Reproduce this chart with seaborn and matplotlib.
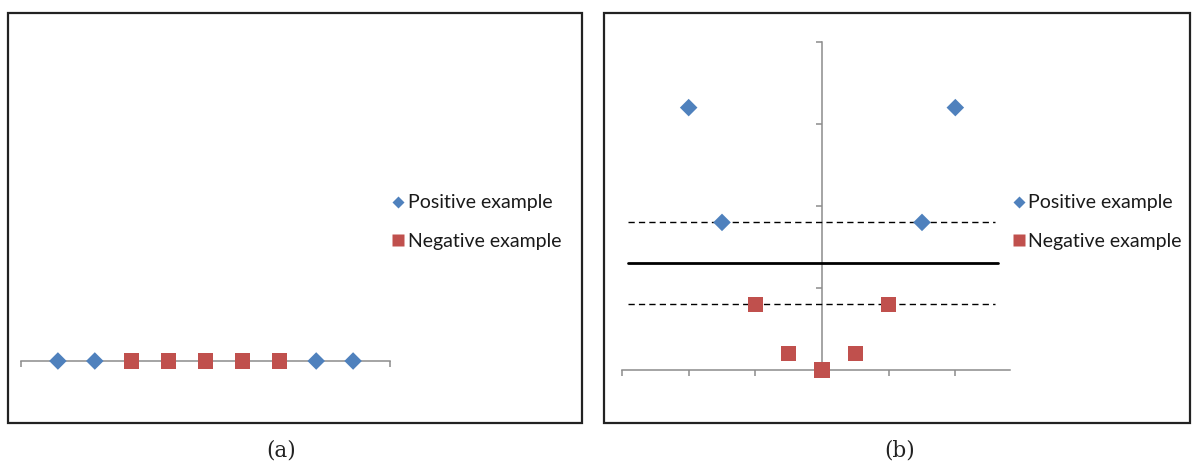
import matplotlib
matplotlib.use("Agg")
import matplotlib.pyplot as plt
from matplotlib.patches import Rectangle
from matplotlib.lines import Line2D
import seaborn as sns
import pandas as pd

# ---- data ----
x_values = [-2, -1.5, -1, -0.5, 0, 0.5, 1, 1.5, 2]
classes = ["Positive example", "Positive example", "Negative example", "Negative example",
           "Negative example", "Negative example", "Negative example", "Positive example",
           "Positive example"]
y_mapped = [4, 2.25, 1, 0.25, 0, 0.25, 1, 2.25, 4]
margin_levels = [1, 2.25]
boundary_level = 1.625
panel_labels = ["(a)", "(b)"]

df_a = pd.DataFrame({"x": x_values, "y": [0] * len(x_values), "cls": classes})
df_b = pd.DataFrame({"x": x_values, "y": y_mapped, "cls": classes})

sns.set_theme(style="white")
plt.rcParams["font.family"] = ["Lato", "DejaVu Sans"]

W, H = 1193, 466
fig = plt.figure(figsize=(W / 100, H / 100), dpi=100)


def fx(px):
    return px / W


def fy(py):
    return 1 - py / H


def ax_rect(l, t, r, b):
    return [fx(l), fy(b), (r - l) / W, (b - t) / H]


BLUE = "#4F81BD"
RED = "#C0504D"
GRAY = "#8C8C8C"
palette = {"Positive example": BLUE, "Negative example": RED}
markers = {"Positive example": "D", "Negative example": "s"}

# frames
for (l, t, r, b) in [(8, 13, 582, 423), (604, 13, 1190, 423)]:
    fig.patches.append(Rectangle((fx(l), fy(b)), (r - l) / W, (b - t) / H,
                                 transform=fig.transFigure, fill=False,
                                 edgecolor="#222222", linewidth=1.6))


def draw_points(ax, df):
    for cls, sub in df.groupby("cls"):
        size = 80 if markers[cls] == "D" else 120
        sns.scatterplot(data=sub, x="x", y="y", ax=ax, color=palette[cls],
                        marker=markers[cls], s=size, edgecolor="none",
                        linewidth=0, clip_on=False, zorder=5, legend=False)


# ---- panel (a) ----
ax_a = fig.add_axes(ax_rect(21, 40, 390, 361))
draw_points(ax_a, df_a)
ax_a.set_xlim(-2.5, 2.5)
ax_a.set_ylim(0, 1)
for s in ["left", "right", "top"]:
    ax_a.spines[s].set_visible(False)
ax_a.spines["bottom"].set_color(GRAY)
ax_a.spines["bottom"].set_linewidth(1.1)
ax_a.set_xticks([-2.5, 2.5])
ax_a.set_xticklabels([])
ax_a.set_yticks([])
ax_a.tick_params(axis="x", direction="out", length=4, width=1.1, color=GRAY, bottom=True)
ax_a.set_xlabel("")
ax_a.set_ylabel("")
ax_a.patch.set_alpha(0)

# ---- panel (b) ----
ax_b = fig.add_axes(ax_rect(622, 42, 1010, 370))
ax_b.set_xlim(-3, 2.82)
ax_b.set_ylim(0, 5)
for lvl in margin_levels:
    ax_b.plot([-2.91, 2.59], [lvl, lvl], color="black", linewidth=1.0,
              dashes=(4.5, 3), zorder=3)
ax_b.plot([-2.91, 2.64], [boundary_level, boundary_level], color="black",
          linewidth=2.0, zorder=3)
draw_points(ax_b, df_b)
ax_b.set_xlim(-3, 2.82)
ax_b.set_ylim(0, 5)
for s in ["right", "top"]:
    ax_b.spines[s].set_visible(False)
ax_b.spines["left"].set_position(("data", 0))
for s in ["left", "bottom"]:
    ax_b.spines[s].set_color(GRAY)
    ax_b.spines[s].set_linewidth(1.1)
ax_b.set_xticks([-3, -2, -1, 0, 1, 2])
ax_b.set_yticks([0, 1.25, 2.5, 3.75, 5])
ax_b.set_xticklabels([])
ax_b.set_yticklabels([])
ax_b.tick_params(axis="both", direction="out", length=4, width=1.1, color=GRAY,
                 bottom=True, left=True)
ax_b.set_xlabel("")
ax_b.set_ylabel("")
ax_b.patch.set_alpha(0)

# ---- legends ----
handles = [Line2D([], [], linestyle="none", marker="D", markersize=6.5,
                  markerfacecolor=BLUE, markeredgecolor="none"),
           Line2D([], [], linestyle="none", marker="s", markersize=9,
                  markerfacecolor=RED, markeredgecolor="none")]
labels = ["Positive example", "Negative example"]
for x0 in [390, 1011]:
    fig.legend(handles, labels, loc="center left",
               bbox_to_anchor=(fx(x0), fy(222)), frameon=False,
               fontsize=14, handlelength=0.8, handletextpad=0.1,
               labelspacing=1.1, borderaxespad=0, borderpad=0,
               labelcolor="#1a1a1a")

# ---- panel labels ----
for lbl, xc in zip(panel_labels, [281, 900]):
    fig.text(fx(xc), fy(451), lbl, ha="center", va="center", fontsize=15.5,
             family=["DejaVu Serif"], color="#222222")

fig.savefig("out.png", dpi=100)
